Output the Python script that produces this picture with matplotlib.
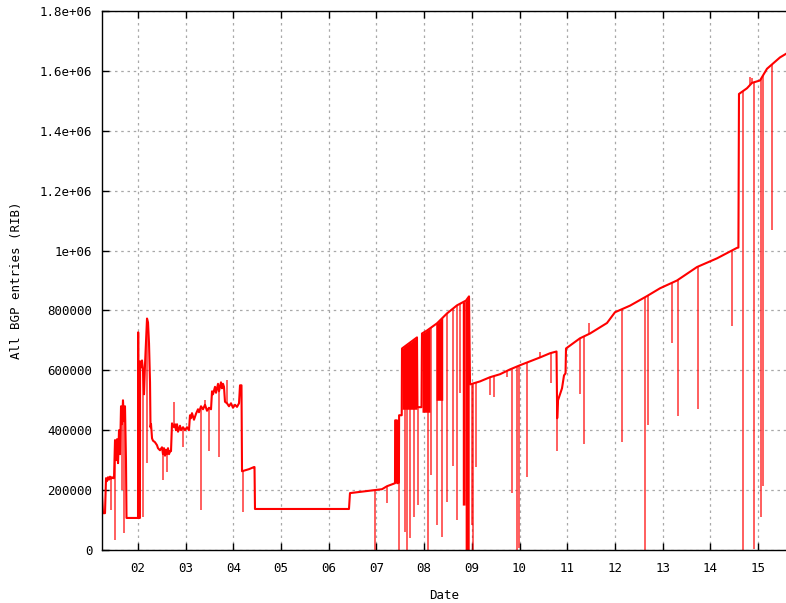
import matplotlib
matplotlib.use("Agg")
import matplotlib.pyplot as plt
import numpy as np

# main trace: decimal year, number of RIB entries
years = [2001.245, 2001.266, 2001.308, 2001.329, 2001.350, 2001.371, 2001.392, 2001.413,
         2001.434, 2001.455, 2001.476, 2001.497, 2001.518, 2001.539, 2001.560, 2001.581,
         2001.602, 2001.623, 2001.644, 2001.664, 2001.685, 2001.706, 2001.727, 2001.748,
         2001.759, 2001.987, 2002.000, 2002.004, 2002.008, 2002.040, 2002.044, 2002.063,
         2002.084, 2002.105, 2002.126, 2002.147, 2002.168, 2002.189, 2002.210, 2002.231,
         2002.252, 2002.262, 2002.273, 2002.294, 2002.315, 2002.356, 2002.398, 2002.419,
         2002.461, 2002.503, 2002.524, 2002.545, 2002.566, 2002.587, 2002.608, 2002.629,
         2002.650, 2002.671, 2002.692, 2002.713, 2002.755, 2002.776, 2002.797, 2002.818,
         2002.839, 2002.881, 2002.902, 2002.944, 2002.986, 2003.027, 2003.069, 2003.090,
         2003.111, 2003.132, 2003.174, 2003.216, 2003.258, 2003.279, 2003.321, 2003.363,
         2003.405, 2003.447, 2003.489, 2003.531, 2003.552, 2003.573, 2003.615, 2003.636,
         2003.678, 2003.698, 2003.740, 2003.761, 2003.782, 2003.803, 2003.824, 2003.866,
         2003.908, 2003.950, 2003.992, 2004.034, 2004.076, 2004.118, 2004.139, 2004.170,
         2004.181, 2004.328, 2004.432,
         2004.443, 2004.453, 2006.424, 2006.445, 2006.970, 2007.116, 2007.221, 2007.389,
         2007.392, 2007.431, 2007.435, 2007.471, 2007.475, 2007.530, 2007.536, 2007.850,
         2007.860, 2007.945, 2007.955, 2008.060, 2008.270, 2008.479, 2008.689, 2008.878,
         2008.941, 2008.962, 2009.171, 2009.381, 2009.591, 2009.800, 2010.010, 2010.220,
         2010.429, 2010.639, 2010.776, 2010.790, 2010.807, 2010.891, 2010.933, 2010.965,
         2010.975, 2011.268, 2011.478, 2011.834, 2012.002, 2012.317, 2012.673, 2012.946,
         2013.302, 2013.722, 2014.141, 2014.560, 2014.590, 2014.602, 2014.770, 2014.875,
         2015.043, 2015.189, 2015.462, 2015.588]
entries = [183000, 123000, 123000, 240000, 230000, 243000, 235000, 245000,
           238000, 243000, 240000, 240000, 367000, 300000, 370000, 290000,
           400000, 320000, 480000, 420000, 500000, 430000, 480000, 300000,
           107000, 107000, 107000, 727000, 107000, 107000, 630000, 610000,
           633000, 600000, 520000, 620000, 700000, 773000, 760000, 690000,
           560000, 410000, 420000, 373000, 365000, 360000, 350000, 340000,
           333000, 343000, 320000, 340000, 315000, 335000, 320000, 340000,
           320000, 330000, 330000, 423000, 410000, 420000, 400000, 420000,
           395000, 415000, 400000, 410000, 400000, 410000, 400000, 450000,
           440000, 457000, 435000, 455000, 470000, 460000, 480000, 470000,
           485000, 465000, 475000, 470000, 530000, 520000, 545000, 525000,
           555000, 530000, 560000, 540000, 555000, 545000, 495000, 490000,
           480000, 490000, 475000, 485000, 478000, 490000, 550000, 550000,
           263000, 270000, 277000,
           277000, 137000, 137000, 190000, 200000, 203000, 213000, 223000,
           433000, 433000, 223000, 225000, 450000, 450000, 673000, 710000,
           477000, 477000, 723000, 733000, 757000, 790000, 817000, 833000,
           847000, 553000, 563000, 577000, 587000, 603000, 617000, 630000,
           643000, 657000, 663000, 440000, 500000, 540000, 583000, 590000,
           673000, 707000, 723000, 758000, 794000, 816000, 848000, 874000,
           900000, 945000, 974000, 1009000, 1010000, 1523000, 1542000, 1560000,
           1568000, 1607000, 1645000, 1657000]

# short drops (year, lowest value)
dip_years = [2001.434, 2001.518, 2001.664, 2001.706, 2002.105, 2002.189, 2002.524, 2002.608,
             2002.944, 2003.321, 2003.489, 2003.698, 2004.202,
             2006.970, 2007.221, 2007.473, 2007.600, 2007.641, 2007.703, 2007.780, 2007.871,
             2008.081, 2008.150, 2008.270, 2008.374, 2008.479, 2008.600, 2008.689, 2008.752,
             2009.004, 2009.015, 2009.087, 2009.381, 2009.465, 2009.738, 2009.842, 2009.947,
             2009.989, 2010.157, 2010.660, 2010.786, 2011.268, 2011.352, 2012.149, 2012.631,
             2012.694, 2013.197, 2013.323, 2013.743, 2014.455, 2014.686, 2014.917, 2015.064,
             2015.106, 2015.294]
dip_lows = [133000, 33000, 200000, 57000, 110000, 290000, 233000, 260000,
            343000, 133000, 330000, 310000, 127000,
            0, 157000, 0, 60000, 0, 40000, 110000, 150000,
            0, 250000, 83000, 43000, 160000, 280000, 100000, 523000,
            83000, 0, 277000, 517000, 510000, 577000, 190000, 0,
            7000, 243000, 557000, 330000, 520000, 353000, 360000, 0,
            417000, 690000, 447000, 470000, 748000, 0, 5000, 110000,
            213000, 1070000]

# short upward spikes (year, highest value)
spike_years = [2002.755, 2003.405, 2003.866, 2010.429, 2011.457, 2014.840, 2014.875]
spike_highs = [493000, 500000, 567000, 660000, 757000, 1580000, 1575000]

# dense flapping periods (start, end, lowest value)
band_start = [2007.392, 2007.536, 2007.955, 2008.250, 2008.800, 2008.860]
band_end = [2007.431, 2007.850, 2008.123, 2008.390, 2008.860, 2008.945]
band_low = [223000, 470000, 460000, 500000, 150000, 0]

year_ticks = list(range(2002, 2016))
year_labels = ["%02d" % (y % 100) for y in year_ticks]
y_ticks = [0, 200000, 400000, 600000, 800000, 1000000, 1200000, 1400000, 1600000, 1800000]
y_labels = ["0", "200000", "400000", "600000", "800000", "1e+06", "1.2e+06",
            "1.4e+06", "1.6e+06", "1.8e+06"]


def main():
    plt.rcParams['font.family'] = ['DejaVu Sans Mono']
    fig = plt.figure(figsize=(7.86, 6.03), dpi=100)
    ax = fig.add_axes([102 / 786, 53 / 603, 684 / 786, 539 / 603])

    x = np.array(years)
    y = np.array(entries)
    red = "#ff0000"

    for x0, x1, low in zip(band_start, band_end, band_low):
        inside = x[(x > x0) & (x < x1)]
        xs = np.concatenate([[x0], inside, [x1]])
        ax.fill_between(xs, low, np.interp(xs, x, y), color=red, lw=0)

    base = np.interp(dip_years, x, y)
    ax.vlines(dip_years, dip_lows, base, color=red, lw=1.1, alpha=0.8)
    base = np.interp(spike_years, x, y)
    ax.vlines(spike_years, base, spike_highs, color=red, lw=1.1, alpha=0.8)
    ax.plot(x, y, color=red, lw=1.5)

    ax.set_xlim(2001.245, 2015.588)
    ax.set_ylim(0, 1800000)
    ax.set_xticks(year_ticks)
    ax.set_xticklabels(year_labels)
    ax.set_yticks(y_ticks)
    ax.set_yticklabels(y_labels)

    ax.grid(True, color="#a8a8a8", lw=0.9, linestyle=(0, (2, 3)))
    ax.set_axisbelow(True)
    ax.tick_params(direction="in", length=5, width=1, labelsize=9,
                   top=True, right=False, colors="black")
    ax.tick_params(axis="x", pad=9)
    ax.tick_params(axis="y", pad=7)
    ax.spines["right"].set_visible(False)
    for s in ("left", "top", "bottom"):
        ax.spines[s].set_linewidth(1.0)

    ax.set_xlabel("Date", fontsize=9, labelpad=10)
    ax.set_ylabel("All BGP entries (RIB)", fontsize=9, labelpad=12)

    fig.savefig("out.png", dpi=100)


if __name__ == '__main__':
    main()
